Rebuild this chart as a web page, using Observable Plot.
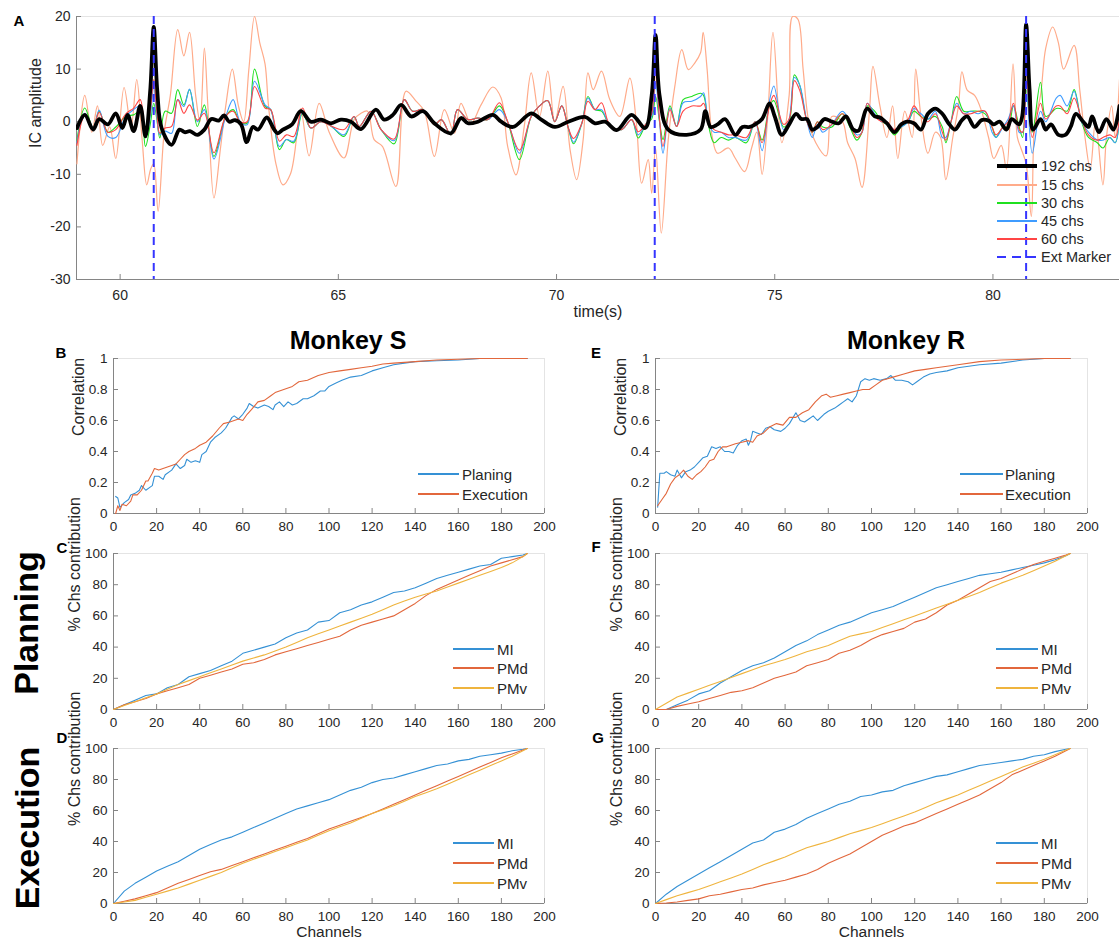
<!DOCTYPE html>
<html><head><meta charset="utf-8">
<script src="https://cdn.jsdelivr.net/npm/d3@7"></script>
<script src="https://cdn.jsdelivr.net/npm/@observablehq/plot@0.6"></script>
<style>
html,body{margin:0;padding:0;background:#fff;}
body{width:1119px;height:943px;overflow:hidden;position:relative;font-family:"Liberation Sans",Arial,Helvetica,sans-serif;color:#262626;}
.abs{position:absolute;white-space:nowrap;}
.letter{font-weight:bold;font-size:15px;color:#000;transform:translate(-50%,-50%);}
.title{font-weight:bold;font-size:25px;color:#000;transform:translate(-50%,-50%);}
.side{font-weight:bold;font-size:34px;color:#000;transform:translate(-50%,-50%) rotate(-90deg);}
.leg{font-size:14px;color:#262626;transform:translateY(-50%);}
</style></head><body>
<script>
// ---------- Panel A data (time in s, IC amplitude) ----------
const timeMarkers = [60.77, 72.25, 80.76];

const time192 = [59.01,59.19,59.38,59.52,59.72,59.9,60.05,60.17,60.31,60.46,60.58,60.69,60.77,60.85,60.95,61.18,61.36,61.48,61.6,61.77,61.93,62.09,62.26,62.38,62.5,62.63,62.77,62.9,63.04,63.16,63.36,63.53,63.61,63.73,63.94,64.14,64.37,64.6,64.83,65.06,65.29,65.52,65.86,66.05,66.25,66.44,66.67,66.94,67.2,67.58,67.81,67.97,68.2,68.54,68.73,69.0,69.42,69.65,69.96,70.27,70.65,70.88,71.11,71.38,71.72,72.03,72.18,72.27,72.36,72.56,72.98,73.3,73.41,73.53,73.69,73.86,74.1,74.26,74.43,74.55,74.71,74.88,75.0,75.16,75.33,75.49,75.61,75.74,75.86,75.98,76.14,76.31,76.47,76.63,76.8,76.92,77.12,77.29,77.41,77.57,77.74,77.9,78.02,78.19,78.35,78.51,78.68,78.84,79.0,79.13,79.29,79.41,79.58,79.74,79.9,80.02,80.15,80.31,80.43,80.6,80.67,80.76,80.84,80.92,81.09,81.21,81.33,81.5,81.66,81.78,81.9,82.07,82.19,82.27,82.43,82.6,82.76,82.9];
const ic192 = [-1.2,1.3,-1.5,0.5,-0.5,1.6,-1.2,1.3,-1.8,3,-2.8,6,18,6,-1.2,-4.4,-1.5,-2,-1.8,-2.5,-1.5,0.5,0.2,1.2,0,0.3,-0.5,-3.9,-1,-1.5,0.8,-1.5,-2.2,-1.5,-0.5,2,0,0.4,-0.3,0.4,0,-1.4,2.3,0.4,1.3,3.2,1,2,-0.3,-2.2,0.7,-0.3,0,1.3,0,-1,1.6,0.4,-1,0,0.9,-0.3,0,-1.6,1.3,-1.2,5,16.5,5,-1.5,-2.5,-1.5,2,-1,-0.5,0.5,-2.5,-1,-1,-0.5,0.5,3.5,1,-2.5,-0.5,1.5,0.5,0.5,-1.5,-1,0.5,0,-0.3,1,-1.5,-1.7,2.5,1,0.8,-0.3,-2,-0.5,0,-0.3,-1.5,1.5,2.5,1.5,-0.5,-1.5,0.3,1,-1,0.3,0.2,-0.5,0,-1.5,0.5,-0.5,1,18.5,6,-1.5,0.5,-1.5,-0.5,-2.5,-2.5,-1,1.5,0,-1,1,-2,0.5,-1.5,3];

const time15 = [59.01,59.19,59.35,59.48,59.6,59.76,59.9,60.09,60.25,60.38,60.5,60.61,60.7,60.77,60.87,61.01,61.15,61.32,61.46,61.59,61.73,61.83,61.93,62.01,62.15,62.3,62.42,62.57,62.71,62.83,62.95,63.08,63.2,63.32,63.4,63.57,63.73,63.9,64.06,
 64.14,64.33,64.56,64.79,65.13,65.36,65.52,65.67,65.82,66.01,66.32,66.55,66.78,66.97,67.2,67.43,67.66,67.81,68.04,68.27,68.54,68.73,68.88,69.07,69.26,69.42,69.61,69.8,69.96,70.15,70.31,70.46,70.61,70.72,70.84,71.03,71.22,71.45,71.68,71.83,71.95,72.1,72.18,72.27,72.4,72.56,72.71,72.87,73.02,73.17,73.3,
 73.36,73.45,73.57,73.69,73.94,74.1,74.31,74.47,74.59,74.71,74.84,74.96,75.16,75.33,75.41,75.53,75.65,75.78,75.94,76.18,76.31,76.55,76.67,76.84,77.0,77.17,77.25,77.41,77.57,77.7,77.82,77.98,78.15,78.23,78.35,78.51,78.68,78.8,78.92,79.08,79.21,79.29,79.41,79.58,79.74,79.9,80.02,80.19,80.31,80.46,80.56,80.64,80.76,80.88,80.96,81.09,81.21,81.37,81.5,81.62,81.86,81.99,82.11,82.23,82.35,82.52,82.6,82.72,82.8,82.9];
const ic15 = [-8,5,-2,3,-4.5,-1,-7,6.5,-1,8,-3,-12,-9,-8,-17,-2,5,17.5,12.5,17,5,0,14,3,-14.5,-5,3,10,3,0,10,20,15,11,3,-8,-12,-10,-2,
 2.5,-6.5,3.5,-2,-6.9,0.4,1.6,2,-3.4,-4.7,-12.3,5.8,3.9,2,-6.6,2.3,-2.2,3.5,-0.3,3.2,6.6,4.5,-4.7,-10.1,-0.9,9.3,1,9.6,0,6.7,-5.3,-11,-3.4,9.3,6.1,9.6,4.2,1,8.3,-0.3,-11.7,-7.2,-13.6,-5,-21.2,-3.4,6.7,13.7,9.9,11.2,13.1,
 17,10,-3,-6,-5,-7,-9.5,-5,-2,-10,1,17,-4,5,20,19.5,10,0,-4,-6.5,1,0,-4,-7,-12.5,2,10.5,3,-3,3,-7,2,-3,10,1,-6,-2,-3,-11,-3,3,9.5,6,5,2,-3,-7,-4.5,-9,11,-3,-5,-8,-18,0,5,14,18,15,10,14.5,6,-3,-9,0,-12,-3,3,-3,8];

const timeMid = [59.01,59.19,59.38,59.52,59.72,59.9,60.13,60.31,60.46,60.58,60.69,60.77,60.84,60.91,61.03,61.18,61.32,61.46,61.59,61.77,61.93,62.15,62.42,62.59,62.75,62.91,63.08,63.32,63.45,63.65,63.81,63.98,64.18,
 64.37,64.6,64.83,65.13,65.36,65.48,65.75,65.98,66.28,66.51,66.7,66.94,67.2,67.36,67.58,67.73,67.97,68.2,68.43,68.69,68.88,69.15,69.42,69.61,69.8,69.96,70.12,70.27,70.39,70.58,70.72,70.88,71.03,71.22,71.49,71.72,71.87,72.06,72.18,72.27,72.36,72.44,72.6,72.75,72.9,73.1,73.3,
 73.37,73.49,73.61,73.77,73.94,74.1,74.35,74.55,74.71,74.88,74.98,75.2,75.33,75.45,75.57,75.74,75.86,75.98,76.1,76.31,76.55,76.72,76.88,77.0,77.12,77.29,77.45,77.57,77.74,77.9,78.06,78.19,78.35,78.51,78.68,78.84,78.92,79.04,79.17,79.33,79.49,79.66,79.82,79.98,80.07,80.23,80.35,80.47,80.6,80.68,80.76,80.9,81.09,81.21,81.45,81.54,81.7,81.86,82.03,82.19,82.39,82.52,82.68,82.8,82.9];
const ic30 = [-3.5,2.6,-1.2,2,-2,-1,1,1.3,2,-4.7,-0.5,3.5,0.5,-3.1,2,1.6,6.1,3.2,6.1,-0.9,3.2,-6.6,1,2.3,0,-0.3,10,2.9,2.3,-5.3,-3.4,-4,1.6,
 -1.2,0,-0.8,-2.8,1,-0.9,2,-1.5,-4.2,4.2,2,2.3,-0.6,0.4,-2.5,2.3,0.4,0.7,0.4,3,0,-7.2,1,3,4,0,3,-1.2,-4.2,-0.3,4.8,2.3,2,-0.6,-1.5,0.4,-3.1,-0.3,0.5,4.8,0,-3.4,3,-0.9,4.2,4.8,5.4,
 5,-1,-4,-3,-3.5,-3,-4,0,-3.5,3,4,-1,0,8.9,7,0,-2,0,-1,-1,1.5,-1,-3.5,-2,3,2,0,-0.5,-2.5,-1,0,2,1,0.5,1,-1,-4,0,4.8,2,2,2,1.5,-1,-3,-1,-1,3,-1,-3,6,-2,7.5,1,2.5,2.5,2,6.1,0,-3,-4,-5,-3,-4,1];
const ic45 = [-4,1.6,-1.2,2.2,-2.8,-3,1,2.3,3,-3,1,6.7,1,-2.5,-1.8,-2.2,4.2,2.9,6.2,0,2.3,-7.1,1,4.2,0,-0.6,7.7,3.2,2.3,-4.7,-3.4,-3.7,2,
 -1.2,0,-0.8,-2.5,1,-0.9,2,-1.5,-3.6,4.2,2,2.3,-0.6,0.4,-2.5,2.3,0.4,0.7,0.4,2.3,0,-6,1,3,4,0,3,-1.2,-3.9,-0.3,4.5,2.3,2.3,-0.6,-1.5,0.4,-2.5,-0.3,1,7.4,0,-6,2.6,-0.9,3.6,3.9,4.8,
 5.5,-0.5,-2,-2,-3,-3,-3.5,0,-5.5,4,6.8,-1.5,0.5,8.4,7,0,-3,-0.5,-2,-0.5,2,0,-2.5,-2,3.5,1.5,0,0,-1.5,-1,0,2.5,1.5,0.5,2,-3,-3,0,3.5,1.5,2,1.5,2,-2,-3,-1,0.5,3,-2,-2,8,-6,2,0,4.5,5,3,5.8,0,-2,-3.5,-3.5,-3,-4,1];
const ic60 = [-4.5,1.3,-1.2,1.8,-2,-1.5,1.5,2.6,4.2,-2.8,2,8,2,-2.2,-1.2,-0.9,4.2,1.6,3.2,0.3,1.6,-5.9,1,2,0,0,6.7,2.6,2.3,-3.7,-2.5,-2.8,2.6,
 -1.2,0,-0.8,-1.5,1,-0.9,2,-1.5,-3.3,4.2,2,2.3,-0.6,0.4,-2.5,2.3,0.4,0.7,0.4,3.6,0,-5.4,1,3,4,0,3,-1.2,-3.2,-0.3,3.9,2.3,3.6,-0.6,-1.5,0.4,-1.9,-0.3,1.5,9.6,0.5,-4.7,2.3,-0.9,2,3,3,
 3.5,0,-1.5,-2,-2.5,-2.5,-3,0,-4,3,5,-0.5,0.5,7.8,6,0,-2,0,-1.5,-0.5,1.5,-0.5,-3,-2,3.5,1,0,0,-1.5,-0.5,0.5,3,1,0,1.5,-2,-3.5,0,3,1.5,1.5,2,2,-1,-2.5,-1,0,3.5,-1.5,-2,10,-3,3.5,0.5,3,3,1.5,4.5,0.5,-2.5,-3.5,-3,-2.5,-3,1.5];

const timeTicks = [60, 65, 70, 75, 80];
const icTicks = [-30, -20, -10, 0, 10, 20];

// ---------- Panels B / E : correlation vs channels ----------
const chS_plan = [1,2,3,5,7,8,10,12,13,15,17,18,19,21,23,24,27,29,31,33,34,36,38,40,41,43,45,47,50,52,55,56,58,60,62,63,65,67,70,72,74,75,77,79,81,83,85,88,90,93,96,98,100,103,106,110,115,120,125,130,135,140,150,160,170,180,192];
const corrS_plan = [0.11,0.10,0.04,0.07,0.09,0.12,0.13,0.15,0.18,0.15,0.17,0.18,0.24,0.24,0.22,0.25,0.28,0.32,0.29,0.31,0.35,0.33,0.34,0.33,0.38,0.40,0.46,0.49,0.52,0.55,0.62,0.63,0.61,0.64,0.68,0.71,0.69,0.68,0.70,0.69,0.67,0.70,0.72,0.69,0.72,0.70,0.71,0.74,0.74,0.76,0.79,0.79,0.82,0.84,0.86,0.88,0.89,0.92,0.94,0.96,0.97,0.98,0.985,0.99,1.0,1.0,1.0];
const chS_exec = [1,2,3,4,6,8,9,11,13,15,16,18,19,21,23,25,27,29,31,33,35,38,40,43,46,49,51,54,56,58,60,62,64,67,70,73,75,79,83,86,90,95,100,105,110,115,120,125,130,140,150,160,170,192];
const corrS_exec = [0.0,0.05,0.02,0.06,0.05,0.08,0.12,0.12,0.15,0.21,0.21,0.26,0.29,0.28,0.29,0.30,0.31,0.32,0.35,0.38,0.40,0.42,0.44,0.46,0.50,0.55,0.58,0.59,0.60,0.61,0.60,0.64,0.67,0.72,0.73,0.76,0.78,0.80,0.82,0.85,0.86,0.89,0.91,0.92,0.93,0.94,0.95,0.965,0.97,0.98,0.99,0.995,1.0,1.0];
const chR_plan = [1,2,4,5,7,9,10,12,14,16,18,20,22,24,26,28,30,32,34,36,38,40,42,43,44,45,47,49,51,53,55,58,60,62,65,67,69,71,73,75,78,80,83,85,87,89,91,93,95,97,99,101,104,107,109,111,114,117,119,121,124,127,130,135,140,145,150,160,170,180,192];
const corrR_plan = [0.04,0.26,0.26,0.27,0.25,0.24,0.28,0.23,0.27,0.28,0.30,0.33,0.36,0.37,0.43,0.42,0.43,0.40,0.40,0.39,0.44,0.47,0.48,0.44,0.47,0.53,0.52,0.51,0.55,0.56,0.54,0.53,0.55,0.58,0.65,0.60,0.59,0.61,0.63,0.60,0.64,0.66,0.68,0.70,0.72,0.74,0.72,0.76,0.85,0.87,0.86,0.87,0.86,0.87,0.89,0.86,0.86,0.85,0.83,0.85,0.88,0.90,0.91,0.92,0.94,0.95,0.96,0.97,0.99,1.0,1.0];
const chR_exec = [1,3,5,7,9,11,13,15,17,19,21,23,25,27,29,31,33,35,37,40,43,45,47,50,53,56,59,62,65,68,71,74,77,79,81,84,87,90,93,96,99,102,105,110,115,120,125,130,140,150,160,170,180,192];
const corrR_exec = [0.05,0.09,0.13,0.19,0.23,0.25,0.28,0.24,0.22,0.25,0.27,0.30,0.34,0.35,0.40,0.43,0.43,0.44,0.45,0.46,0.47,0.46,0.50,0.52,0.56,0.58,0.57,0.62,0.62,0.65,0.67,0.72,0.76,0.77,0.75,0.76,0.77,0.78,0.79,0.80,0.80,0.83,0.86,0.88,0.90,0.92,0.93,0.94,0.96,0.98,0.99,0.995,1.0,1.0];
const corrTicks = [0, 0.2, 0.4, 0.6, 0.8, 1];

// ---------- Panels C / D / F / G : % channel contribution ----------
const chGrid = [0,5,10,15,20,25,30,35,40,45,50,55,60,65,70,75,80,85,90,95,100,105,110,115,120,125,130,135,140,145,150,155,160,165,170,175,180,185,190,192];
const S_plan_MI  = [0,3,6,9,10,14,16,21,23,25,28,31,36,38,40,42,46,49,51,56,57,62,64,67,69,72,75,76,78,81,84,86,88,90,92,93,97,98,99,100];
const S_plan_PMd = [0,3,5,7,10,12,14,16,20,22,24,26,29,30,32,35,37,39,41,43,45,47,51,54,56,58,60,64,68,73,77,80,83,86,89,92,94,96,98,100];
const S_plan_PMv = [0,2.5,5,7.5,10,13,16,18.5,21,23.5,26,28.5,31,33,35,37.5,40,43,46,48.5,51,53.5,56,58.5,61,64,67,69.5,72,74,76,78.5,81,83.5,86,88.5,91,94,98,100];
const R_plan_MI  = [0,0,3,6,10,12,17,21,25,28,30,33,37,41,44,48,51,54,56,59,62,64,66,69,72,75,78,80,82,84,86,87,88,89.5,91,92.5,94,96,98.5,100];
const R_plan_PMd = [0,0,2,3.5,5,7,9,11,12,14,17,20,22,24,28,30,32,36,38,41,45,48,50,52,56,58,62,67,70,74,78,82,84,87,90,93,95,97,99,100];
const R_plan_PMv = [0,4,8,10.5,13,15.5,18,20.5,23,25.5,28,30,32,34.5,37,39,41,44,47,48.5,50,52.5,55,57.5,60,62.5,65,67.5,70,72.5,75,78,81,83.5,86,89,92,95,98.5,100];
const S_exec_MI  = [0,8,13,17,21,24,27,31,35,38,41,43,46,49,52,55,58,61,63,65,67,70,73,75,78,80,81,83,85,87,89,90,92,93,95,96,97,98.5,99.5,100];
const S_exec_PMd = [0,1.5,3,5,7,10,13,15.5,18,20.5,22,24.5,27,29.5,32,34.5,37,39.5,42,45,48,50.5,53,55.5,58,61,64,67,70,73,76,79,82,85,88,91,94,96.5,99,100];
const S_exec_PMv = [0,1,2,4,6,8,10,12.5,15,17.5,20,23,26,28.5,31,33.5,36,38.5,41,44,47,49.5,52,55,58,60.5,63,66,69,71.5,74,77,80,83,86,89,92,95,98.5,100];
const R_exec_MI  = [0,6,11,15,19,23,27,31,35,39,41,46,48,51,55,58,61,64,66,69,70,72,73,76,78,80,82,83,85,87,89,90,91,92,93,95,96,98,99.5,100];
const R_exec_PMd = [0,0.3,1,2,3,5,6,7.5,9,10,12,13.5,15,17,19,22,26,29,32,36,40,44,47,50,52,55,58,61,64,67,70,74,78,83,86,89,92,95,98.5,100];
const R_exec_PMv = [0,2.5,5,7,9,11.5,14,16.5,19,22,25,27.5,30,33,36,38,40,42.5,45,47,49,51.5,54,56.5,59,62,65,67.5,70,73,76,79,82,85,88,90.5,93,96,99,100];
const pctTicks = [0, 20, 40, 60, 80, 100];
const chTicks = [0, 20, 40, 60, 80, 100, 120, 140, 160, 180, 200];

// ---------- styling ----------
const FONT = '"Liberation Sans", Arial, Helvetica, sans-serif';
const AX = "#858585";
const COL = {c192: "#000000", c15: "#ffab8a", c30: "#1fe01f", c45: "#3f9cff", c60: "#ff4545", ext: "#3535ff",
             blue: "#3591d5", orange: "#e2673c", yellow: "#efb43e"};

function pts(xs, ys) { return xs.map((x, i) => ({x, y: ys[i]})); }

function addSvg(svg, left, top) {
  svg.style.position = "absolute";
  svg.style.left = left + "px";
  svg.style.top = top + "px";
  document.body.appendChild(svg);
}

function axisMarks({xDomain, yDomain, xTicks, yTicks, fw, fh, fontSize, padX, padY, xLabel, xLabelDy, yLabel, yLabelDx, labelSize}) {
  const m = [
    Plot.frame({stroke: "#e4e4e4"}),
    Plot.ruleY([yDomain[0]], {stroke: AX}),
    Plot.ruleX([xDomain[0]], {stroke: AX}),
    Plot.tickX(xTicks, {x: d => d, stroke: AX, insetTop: fh - 5}),
    Plot.tickY(yTicks, {y: d => d, stroke: AX, insetRight: fw - 5}),
    Plot.axisX({ticks: xTicks, tickSize: 0, tickPadding: padX, fontSize, tickFormat: d => String(d), label: null}),
    Plot.axisY({ticks: yTicks, tickSize: 0, tickPadding: padY, fontSize, tickFormat: d => String(d), label: null})
  ];
  if (yLabel) m.push(Plot.text([yLabel], {text: d => d, frameAnchor: "left", rotate: -90, dx: yLabelDx, fontSize: 16, fill: "#262626"}));
  if (xLabel) m.push(Plot.text([xLabel], {text: d => d, frameAnchor: "bottom", dy: xLabelDy, fontSize: labelSize || 16, fill: "#262626"}));
  return m;
}

function html(cls, text, left, top, extra) {
  const d = document.createElement("div");
  d.className = "abs " + cls;
  d.textContent = text;
  d.style.left = left + "px";
  d.style.top = top + "px";
  if (extra) Object.assign(d.style, extra);
  document.body.appendChild(d);
}

function legend(entries, x1, x2, tx, ys, fs) {
  entries.forEach((e, i) => {
    const l = document.createElement("div");
    l.className = "abs";
    const w = e.w || 1.5;
    Object.assign(l.style, {left: x1 + "px", top: (ys[i] - w / 2) + "px", width: (x2 - x1) + "px", height: w + "px",
      background: e.dash ? `repeating-linear-gradient(90deg, ${e.c} 0 9px, transparent 9px 15px)` : e.c});
    document.body.appendChild(l);
    html("leg", e.t, tx, ys[i], {fontSize: fs + "px"});
  });
}

// ---------- Panel A ----------
{
  const W = 1119, H = 330, ml = 76, mr = 0, mt = 16, mb = 51;
  const xDomain = [59, 82.9], yDomain = [-30, 20];
  const svg = Plot.plot({
    width: W, height: H, marginLeft: ml, marginRight: mr, marginTop: mt, marginBottom: mb,
    x: {domain: xDomain}, y: {domain: yDomain},
    style: {fontFamily: FONT, color: "#262626", background: "transparent", overflow: "visible"},
    marks: [
      ...axisMarks({xDomain, yDomain, xTicks: timeTicks, yTicks: icTicks, fw: W - ml - mr, fh: H - mt - mb,
        fontSize: 14, padX: 11, padY: 6, xLabel: "time(s)", xLabelDy: 37, yLabel: "IC amplitude", yLabelDx: -41}),
      Plot.line(pts(time15, ic15), {x: "x", y: "y", stroke: COL.c15, strokeWidth: 1.2, curve: "catmull-rom", clip: true}),
      Plot.line(pts(timeMid, ic30), {x: "x", y: "y", stroke: COL.c30, strokeWidth: 1.1, curve: "catmull-rom", clip: true}),
      Plot.line(pts(timeMid, ic45), {x: "x", y: "y", stroke: COL.c45, strokeWidth: 1.1, curve: "catmull-rom", clip: true}),
      Plot.line(pts(timeMid, ic60), {x: "x", y: "y", stroke: COL.c60, strokeWidth: 1.1, curve: "catmull-rom", clip: true}),
      Plot.line(pts(time192, ic192), {x: "x", y: "y", stroke: COL.c192, strokeWidth: 3.8, curve: "catmull-rom", strokeLinejoin: "round", clip: true}),
      Plot.ruleX(timeMarkers, {x: d => d, stroke: COL.ext, strokeWidth: 2, strokeDasharray: "8,5"})
    ]
  });
  addSvg(svg, 0, 0);
  legend([
    {t: "192 chs", c: COL.c192, w: 4},
    {t: "15 chs", c: COL.c15, w: 1.3},
    {t: "30 chs", c: COL.c30, w: 1.3},
    {t: "45 chs", c: COL.c45, w: 1.3},
    {t: "60 chs", c: COL.c60, w: 1.3},
    {t: "Ext Marker", c: COL.ext, w: 2, dash: true}
  ], 997, 1037, 1041, [166, 185, 203, 221, 239, 257], 14.5);
}

// ---------- small panels ----------
function smallPanel({left, top, W, H, ml, mr, mt, mb, yDomain, yTicks, series, yLabel, yLabelDx, xLabel}) {
  const xDomain = [0, 200];
  const svg = Plot.plot({
    width: W, height: H, marginLeft: ml, marginRight: mr, marginTop: mt, marginBottom: mb,
    x: {domain: xDomain}, y: {domain: yDomain},
    style: {fontFamily: FONT, color: "#262626", background: "transparent", overflow: "visible"},
    marks: [
      ...axisMarks({xDomain, yDomain, xTicks: chTicks, yTicks, fw: W - ml - mr, fh: H - mt - mb,
        fontSize: 13.5, padX: 8, padY: 6, xLabel, xLabelDy: 33, labelSize: 15.5, yLabel, yLabelDx}),
      ...series.map(s => Plot.line(pts(s.x, s.y), {x: "x", y: "y", stroke: s.c, strokeWidth: 1.1}))
    ]
  });
  addSvg(svg, left, top);
}

// B
smallPanel({left: 0, top: 330, W: 560, H: 215, ml: 113, mr: 16, mt: 28, mb: 32, yDomain: [0, 1], yTicks: corrTicks,
  yLabel: "Correlation", yLabelDx: -35,
  series: [{x: chS_plan, y: corrS_plan, c: COL.blue}, {x: chS_exec, y: corrS_exec, c: COL.orange}]});
// E
smallPanel({left: 560, top: 330, W: 559, H: 215, ml: 95, mr: 32, mt: 28, mb: 32, yDomain: [0, 1], yTicks: corrTicks,
  yLabel: "Correlation", yLabelDx: -35,
  series: [{x: chR_plan, y: corrR_plan, c: COL.blue}, {x: chR_exec, y: corrR_exec, c: COL.orange}]});
// C
smallPanel({left: 0, top: 530, W: 560, H: 210, ml: 113, mr: 16, mt: 23, mb: 31, yDomain: [0, 100], yTicks: pctTicks,
  yLabel: "% Chs contribution", yLabelDx: -39,
  series: [{x: chGrid, y: S_plan_MI, c: COL.blue}, {x: chGrid, y: S_plan_PMd, c: COL.orange}, {x: chGrid, y: S_plan_PMv, c: COL.yellow}]});
// F
smallPanel({left: 560, top: 530, W: 559, H: 210, ml: 95, mr: 32, mt: 23, mb: 31, yDomain: [0, 100], yTicks: pctTicks,
  yLabel: "% Chs contribution", yLabelDx: -39,
  series: [{x: chGrid, y: R_plan_MI, c: COL.blue}, {x: chGrid, y: R_plan_PMd, c: COL.orange}, {x: chGrid, y: R_plan_PMv, c: COL.yellow}]});
// D
smallPanel({left: 0, top: 725, W: 560, H: 218, ml: 113, mr: 16, mt: 23, mb: 40, yDomain: [0, 100], yTicks: pctTicks,
  yLabel: "% Chs contribution", yLabelDx: -39, xLabel: "Channels",
  series: [{x: chGrid, y: S_exec_MI, c: COL.blue}, {x: chGrid, y: S_exec_PMd, c: COL.orange}, {x: chGrid, y: S_exec_PMv, c: COL.yellow}]});
// G
smallPanel({left: 560, top: 725, W: 559, H: 218, ml: 95, mr: 32, mt: 23, mb: 40, yDomain: [0, 100], yTicks: pctTicks,
  yLabel: "% Chs contribution", yLabelDx: -39, xLabel: "Channels",
  series: [{x: chGrid, y: R_exec_MI, c: COL.blue}, {x: chGrid, y: R_exec_PMd, c: COL.orange}, {x: chGrid, y: R_exec_PMv, c: COL.yellow}]});

// legends for small panels
legend([{t: "Planing", c: COL.blue}, {t: "Execution", c: COL.orange}], 418, 459, 462, [474, 494], 15);
legend([{t: "Planing", c: COL.blue}, {t: "Execution", c: COL.orange}], 960, 1003, 1005, [474, 494], 15);
const areaLeg = [{t: "MI", c: COL.blue}, {t: "PMd", c: COL.orange}, {t: "PMv", c: COL.yellow}];
legend(areaLeg, 453, 494, 497, [649, 668, 688], 15);
legend(areaLeg, 996, 1038, 1041, [649, 668, 688], 15);
legend(areaLeg, 453, 494, 497, [843, 863, 883], 15);
legend(areaLeg, 996, 1038, 1041, [843, 863, 883], 15);

// letters, titles, side labels
html("letter", "A", 19, 20);
html("letter", "B", 61, 352);
html("letter", "E", 596, 352);
html("letter", "C", 62, 547);
html("letter", "F", 596, 546);
html("letter", "D", 62, 737);
html("letter", "G", 598, 737);
html("title", "Monkey S", 348, 340);
html("title", "Monkey R", 906, 340);
html("side", "Planning", 26, 623);
html("side", "Execution", 27, 828);
</script>
</body></html>
